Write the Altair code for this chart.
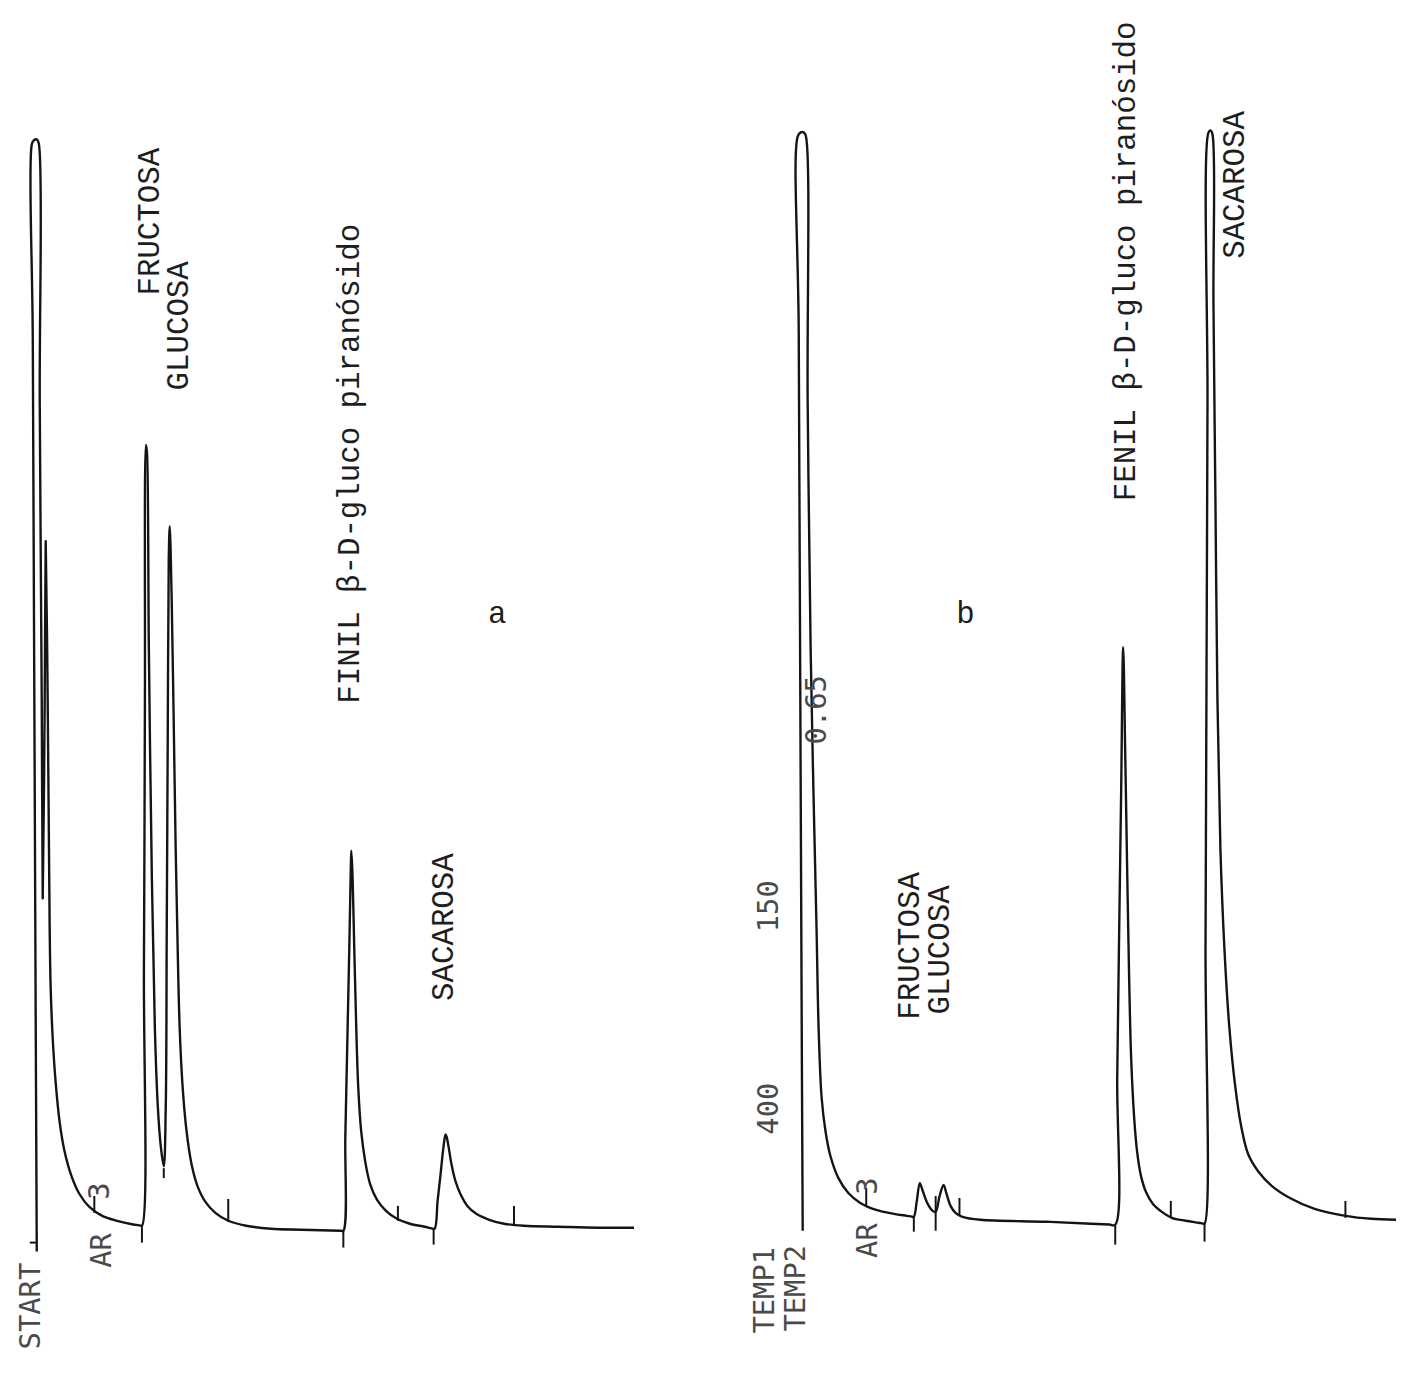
import altair as alt
import pandas as pd

# ================= Panel a : chromatogram trace =================
# time (s after injection) and detector response (arbitrary units), per peak segment
A_SOLV_T = [-1, -2, -5, -6, -4, -1, 1, 2, 4, 5, 7, 8, 10, 12, 13, 15, 18, 22, 27, 34,
            42, 52, 65, 80, 95, 103, 105]
A_SOLV_S = [-16, 200, 900, 1100, 1104, 1105, 1101, 840, 540, 340, 540, 700, 540, 310, 250, 200, 155, 115, 85, 60,
            42, 29, 20, 15, 11.5, 10.3, 10]
A_FRU_T = [107, 108, 109, 110, 112, 115, 118, 121, 124, 127]
A_FRU_S = [270, 540, 797, 790, 590, 360, 210, 130, 90, 70]
A_GLU_T = [129, 130, 131, 132, 133, 135, 137, 139, 141, 143, 146, 150, 155, 161, 169, 179, 192, 210, 235, 265,
           295, 305, 308]
A_GLU_S = [130, 310, 500, 680, 715, 640, 520, 390, 290, 210, 150, 105, 72, 50, 34, 23, 15, 10, 7, 6,
           5.2, 5, 5]
A_FEN_T = [310, 312, 314, 315.5, 316, 317, 319, 321, 323, 326, 330, 335, 342, 351, 362, 375, 390, 397, 400]
A_FEN_S = [100, 195, 290, 370, 388, 370, 290, 210, 150, 105, 75, 52, 36, 25, 17, 12, 9, 7.3, 7]
A_SAC_T = [403, 406, 409, 411, 412, 414, 417, 421, 426, 433, 442, 455, 470, 490, 525, 565, 601]
A_SAC_S = [35, 62, 90, 102, 100, 90, 72, 55, 42, 30, 22, 16, 12, 10, 9, 8, 8]

# event marks (integrator ticks)
A_TICK_T = [57, 105, 127, 192, 308, 363, 399, 480]
A_TICK_S1 = [23, 10, 68, 37, 5, 30, 7, 30]
A_TICK_S2 = [40, -7, 58, 14, -12, 15, -9, 11]
A_START_T = [-8]
A_START_T2 = [-1]
A_START_S = [-7]

# labels
A_LAB = ["FRUCTOSA", "GLUCOSA", "FINIL β-D-gluco piranósido", "SACAROSA"]
A_LAB_T = [113, 142, 315, 410]
A_LAB_S = [1022, 917, 778, 311]
A_PR = ["START", "AR", "3"]
A_PR_T = [-7, 65, 63]
A_PR_S = [-71, -15, 45]
A_ID = ["a"]
A_ID_T = [463]
A_ID_S = [627]

# ================= Panel b : chromatogram trace =================
B_SOLV_T = [-1, -2, -5, -6, -3, 0, 2, 4, 7, 10, 13, 15, 18, 22, 27, 35, 45, 57, 73, 91, 104, 109, 111]
B_SOLV_S = [-5, 200, 900, 1098, 1102, 1102, 1099, 830, 580, 430, 297, 200, 130, 95, 70, 48, 33, 23, 16, 12,
            10, 9.2, 9]
B_FG_T = [114, 117, 120, 125, 130, 133, 137, 141, 144, 148, 153, 160, 178, 245, 290, 308, 314]
B_FG_S = [25, 43, 35, 22, 15, 14, 30, 41, 32, 20, 13, 9, 6, 4, 2, 1.2, 1]
B_FEN_T = [316, 318, 320, 322, 324, 326, 328, 330, 333, 336, 340, 345, 352, 361, 371, 385, 398, 402, 404]
B_FEN_S = [150, 300, 440, 583, 480, 360, 250, 170, 110, 75, 50, 34, 22, 14, 8, 5, 3, 2.3, 2]
B_SAC_T = [405, 406, 407, 408, 410, 412, 413, 415, 417, 420, 424, 429, 435, 441, 448, 458, 472, 490, 515, 546,
           572, 597]
B_SAC_S = [280, 555, 830, 1102, 1104, 1100, 930, 730, 530, 380, 280, 200, 140, 100, 72, 55, 40, 28, 17, 10,
           7, 6]

B_TICK_T = [63, 111, 133, 157, 314, 370, 404, 546]
B_TICK_S1 = [19, 9, 30, 28, 0, 25, 2, 25]
B_TICK_S2 = [38, -6, -5, 10, -19, 8, -16, 8]

B_LAB = ["FENIL β-D-gluco piranósido", "SACAROSA", "FRUCTOSA", "GLUCOSA"]
B_LAB_T = [325, 435, 107, 137]
B_LAB_S = [972, 1049, 282, 278]
B_PR = ["150", "400", "0.65", "TEMP1", "TEMP2", "AR", "3"]
B_PR_T = [-35, -35, 13, -39, -8, 65, 65]
B_PR_S = [322, 118, 520, -65, -63, -15, 40]
B_ID = ["b"]
B_ID_T = [163]
B_ID_S = [617]

INK = "#141414"
TYPE_FONT = "Liberation Mono"
PRINT_FONT = "DejaVu Sans Mono"


def panel(tt, ss, tick_t, tick_s1, tick_s2, lab, lab_t, lab_s, pr, pr_t, pr_s,
          idl, id_t, id_s, xdom, ydom, start=None):
    xs = alt.Scale(domain=xdom, nice=False, zero=False)
    ys = alt.Scale(domain=ydom, nice=False, zero=False)
    trace = pd.DataFrame({"t": tt, "s": ss, "i": list(range(len(tt)))})
    ticks = pd.DataFrame({"t": tick_t, "s1": tick_s1, "s2": tick_s2})
    labs = pd.DataFrame({"label": lab, "t": lab_t, "s": lab_s})
    prs = pd.DataFrame({"label": pr, "t": pr_t, "s": pr_s})
    ids = pd.DataFrame({"label": idl, "t": id_t, "s": id_s})

    line = alt.Chart(trace).mark_line(
        color=INK, strokeWidth=2.4, strokeJoin="round", interpolate="catmull-rom"
    ).encode(
        x=alt.X("t:Q", scale=xs, axis=None),
        y=alt.Y("s:Q", scale=ys, axis=None),
        order="i:Q",
    )
    tk = alt.Chart(ticks).mark_rule(color=INK, strokeWidth=2).encode(
        x=alt.X("t:Q", scale=xs, axis=None),
        y=alt.Y("s1:Q", scale=ys, axis=None),
        y2="s2:Q",
    )
    tx = alt.Chart(labs).mark_text(
        angle=270, font=TYPE_FONT, fontSize=31, color="#1e1e1e", align="center", baseline="middle"
    ).encode(
        x=alt.X("t:Q", scale=xs, axis=None),
        y=alt.Y("s:Q", scale=ys, axis=None),
        text="label:N",
    )
    pt = alt.Chart(prs).mark_text(
        angle=270, font=PRINT_FONT, fontSize=29, color="#4a4a4a", align="center", baseline="middle"
    ).encode(
        x=alt.X("t:Q", scale=xs, axis=None),
        y=alt.Y("s:Q", scale=ys, axis=None),
        text="label:N",
    )
    it = alt.Chart(ids).mark_text(
        font=TYPE_FONT, fontSize=31, color="#1e1e1e", align="center", baseline="middle"
    ).encode(
        x=alt.X("t:Q", scale=xs, axis=None),
        y=alt.Y("s:Q", scale=ys, axis=None),
        text="label:N",
    )
    layers = [line, tk, tx, pt, it]
    if start is not None:
        st = alt.Chart(pd.DataFrame(start)).mark_rule(color=INK, strokeWidth=2).encode(
            x=alt.X("t:Q", scale=xs, axis=None),
            x2="t2:Q",
            y=alt.Y("s:Q", scale=ys, axis=None),
        )
        layers.append(st)
    return alt.layer(*layers).properties(width=695, height=1358)


A_T = A_SOLV_T + A_FRU_T + A_GLU_T + A_FEN_T + A_SAC_T
A_S = A_SOLV_S + A_FRU_S + A_GLU_S + A_FEN_S + A_SAC_S
B_T = B_SOLV_T + B_FG_T + B_FEN_T + B_SAC_T
B_S = B_SOLV_S + B_FG_S + B_FEN_S + B_SAC_S

pa = panel(A_T, A_S, A_TICK_T, A_TICK_S1, A_TICK_S2, A_LAB, A_LAB_T, A_LAB_S,
           A_PR, A_PR_T, A_PR_S, A_ID, A_ID_T, A_ID_S, [-30, 665], [-126, 1232],
           start={"t": A_START_T, "t2": A_START_T2, "s": A_START_S})
pb = panel(B_T, B_S, B_TICK_T, B_TICK_S1, B_TICK_S2, B_LAB, B_LAB_T, B_LAB_S,
           B_PR, B_PR_T, B_PR_S, B_ID, B_ID_T, B_ID_S, [-107, 588], [-136, 1222])

chart = alt.hconcat(pa, pb, spacing=0).properties(padding=0, background="white").configure_view(
    stroke=None
)

chart.save("out.html", embed_options={"renderer": "svg", "actions": False})
